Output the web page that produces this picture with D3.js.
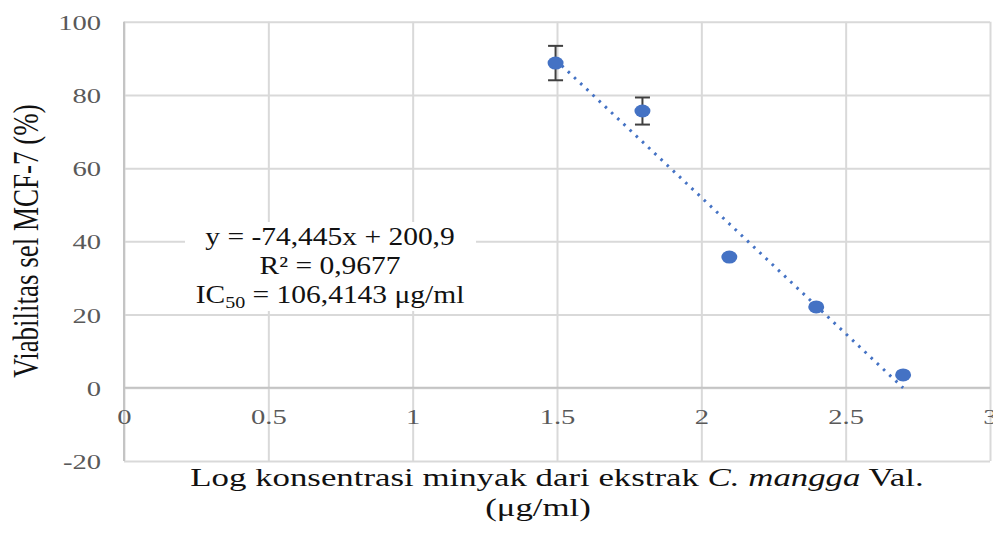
<!DOCTYPE html>
<html>
<head>
<meta charset="utf-8">
<script src="https://cdn.jsdelivr.net/npm/d3@7"></script>
<style>
  html, body { margin: 0; padding: 0; background: #fff; }
  svg { display: block; }
</style>
</head>
<body>
<div id="chart"></div>
<script>
// Chart data
const xTicks = [0, 0.5, 1, 1.5, 2, 2.5, 3];
const yTicks = [-20, 0, 20, 40, 60, 80, 100];
const logConc = [1.495, 1.796, 2.097, 2.398, 2.699];
const viability = [88.7, 75.6, 35.7, 22.1, 3.5];
const errorSD = [4.7, 3.7, 0, 0, 0];
const trendSlope = -74.445;
const trendIntercept = 200.9;
const eqLine1 = 'y = -74,445x + 200,9';
const eqLine2 = 'R² = 0,9677';
const eqLine3 = ['IC', '50', ' = 106,4143 μg/ml'];
const yTitle = 'Viabilitas sel MCF-7 (%)';
const xTitle = ['Log konsentrasi minyak dari ekstrak ', 'C. mangga', ' Val.'];
const xTitle2 = '(μg/ml)';

const width = 993;
const height = 533;
const SX = 1.3;            // picture is stretched sideways, so is its text
const serif = '"Liberation Serif", "Times New Roman", serif';
const blue = '#4472c4';

const svg = d3.select('#chart')
  .append('svg')
  .attr('width', width)
  .attr('height', height);

const x = d3.scaleLinear().domain([0, 3]).range([124, 990]);
const y = d3.scaleLinear().domain([-20, 100]).range([461, 21.7]);

// vertical gridlines
const gridX = svg.append('g')
  .attr('transform', `translate(0,${y(-20)})`)
  .call(d3.axisBottom(x).tickValues(xTicks).tickSize(-(y(-20) - y(100))).tickFormat(''));
gridX.select('.domain').remove();
gridX.selectAll('line').attr('stroke', '#d9d9d9').attr('stroke-width', 2);

// horizontal gridlines
const gridY = svg.append('g')
  .attr('transform', `translate(${x(0)},0)`)
  .call(d3.axisLeft(y).tickValues(yTicks).tickSize(-(x(3) - x(0))).tickFormat(''));
gridY.select('.domain').remove();
gridY.selectAll('line').attr('stroke', '#d9d9d9').attr('stroke-width', 2);

// axis lines (x axis crosses at y = 0)
svg.append('line')
  .attr('x1', x(0)).attr('x2', x(3))
  .attr('y1', y(0)).attr('y2', y(0))
  .attr('stroke', '#c4c4c4').attr('stroke-width', 2);
svg.append('line')
  .attr('x1', x(0)).attr('x2', x(0))
  .attr('y1', y(-20)).attr('y2', y(100))
  .attr('stroke', '#c4c4c4').attr('stroke-width', 2);

// x tick labels sit just under the zero line
const xAxis = svg.append('g')
  .attr('transform', `translate(0,${y(0)})`)
  .call(d3.axisBottom(x).tickValues(xTicks).tickSize(0).tickFormat(d => String(d)));
xAxis.select('.domain').remove();
xAxis.selectAll('text')
  .attr('y', 36)
  .attr('dy', null)
  .attr('transform', `scale(${SX},1)`)
  .attr('font-family', serif)
  .attr('font-size', 22)
  .attr('fill', '#595959');

// y tick labels (plain hyphen for the minus, as in the original)
const yAxis = svg.append('g')
  .attr('transform', `translate(${x(0)},0)`)
  .call(d3.axisLeft(y).tickValues(yTicks).tickSize(0).tickFormat(d => String(d)));
yAxis.select('.domain').remove();
yAxis.selectAll('text')
  .attr('x', -23 / SX)
  .attr('dy', '0.34em')
  .attr('transform', `scale(${SX},1)`)
  .attr('font-family', serif)
  .attr('font-size', 22)
  .attr('fill', '#595959');

// linear trendline over the data range
const xExt = d3.extent(logConc);
const trend = d3.line()
  .x(d => x(d))
  .y(d => y(trendIntercept + trendSlope * d));
svg.append('path')
  .attr('d', trend(xExt))
  .attr('fill', 'none')
  .attr('stroke', blue)
  .attr('stroke-width', 3)
  .attr('stroke-dasharray', '2.5,6');

// error bars
const pts = logConc.map((v, i) => ({ x: v, y: viability[i], e: errorSD[i] }));
const err = svg.append('g')
  .attr('stroke', '#404040')
  .attr('stroke-width', 2)
  .selectAll('g')
  .data(pts.filter(d => d.e > 0))
  .join('g');
err.append('line')
  .attr('x1', d => x(d.x)).attr('x2', d => x(d.x))
  .attr('y1', d => y(d.y - d.e)).attr('y2', d => y(d.y + d.e));
err.append('line')
  .attr('x1', d => x(d.x) - 7.5).attr('x2', d => x(d.x) + 7.5)
  .attr('y1', d => y(d.y + d.e)).attr('y2', d => y(d.y + d.e));
err.append('line')
  .attr('x1', d => x(d.x) - 7.5).attr('x2', d => x(d.x) + 7.5)
  .attr('y1', d => y(d.y - d.e)).attr('y2', d => y(d.y - d.e));

// markers
svg.append('g')
  .selectAll('ellipse')
  .data(pts)
  .join('ellipse')
  .attr('cx', d => x(d.x))
  .attr('cy', d => y(d.y))
  .attr('rx', 8)
  .attr('ry', 6.5)
  .attr('fill', blue);

// equation label
const eq = svg.append('g');
eq.append('rect')
  .attr('x', 185).attr('y', 222)
  .attr('width', 291).attr('height', 89)
  .attr('fill', '#fff');
const eqText = (ty) => eq.append('text')
  .attr('transform', `translate(330,${ty}) scale(1.18,1)`)
  .attr('text-anchor', 'middle')
  .attr('font-family', serif)
  .attr('font-size', 25)
  .attr('fill', '#111');
eqText(245).text(eqLine1);
eqText(274).text(eqLine2);
const ic = eqText(303);
ic.append('tspan').text(eqLine3[0]);
ic.append('tspan').attr('font-size', 17).attr('dy', 5).text(eqLine3[1]);
ic.append('tspan').attr('dy', -5).text(eqLine3[2]);

// axis titles
const xt = svg.append('text')
  .attr('transform', `translate(557,486) scale(1.34,1)`)
  .attr('text-anchor', 'middle')
  .attr('font-family', serif)
  .attr('font-size', 26)
  .attr('fill', '#111');
xt.append('tspan').text(xTitle[0]);
xt.append('tspan').attr('font-style', 'italic').text(xTitle[1]);
xt.append('tspan').text(xTitle[2]);

svg.append('text')
  .attr('transform', `translate(538,516) scale(1.34,1)`)
  .attr('text-anchor', 'middle')
  .attr('font-family', serif)
  .attr('font-size', 26)
  .attr('fill', '#111')
  .text(xTitle2);

svg.append('text')
  .attr('transform', `translate(38,241) scale(${SX},1) rotate(-90)`)
  .attr('text-anchor', 'middle')
  .attr('font-family', serif)
  .attr('font-size', 27)
  .attr('fill', '#111')
  .text(yTitle);
</script>
</body>
</html>
